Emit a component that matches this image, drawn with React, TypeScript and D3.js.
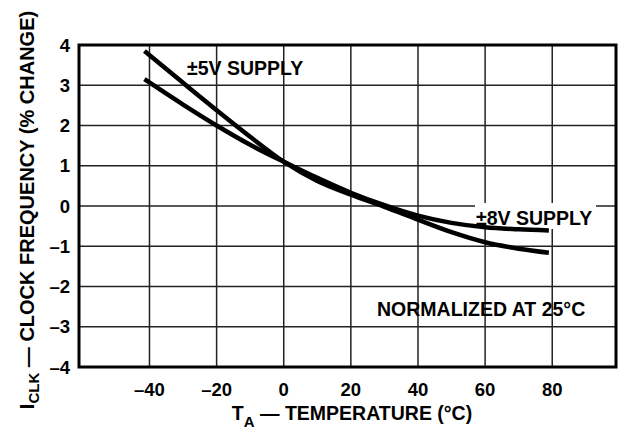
import React from "react";
import * as d3 from "d3";

const xTicks = [-40, -20, 0, 20, 40, 60, 80];
const yTicks = [4, 3, 2, 1, 0, -1, -2, -3, -4];
const yTickLabels = ["4", "3", "2", "1", "0", "\u20131", "\u20132", "\u20133", "\u20134"];
const xTickLabels = ["\u201340", "\u201320", "0", "20", "40", "60", "80"];

const tempA = [-41.5, -30, -20, -10, 0, 10, 20, 30, 40, 50, 60, 70, 79];
const steepSeries = [3.85, 3.06, 2.38, 1.72, 1.1, 0.62, 0.28, -0.02, -0.34, -0.65, -0.9, -1.06, -1.16];
const flatSeries = [3.15, 2.52, 2.0, 1.52, 1.1, 0.7, 0.33, 0.02, -0.24, -0.42, -0.53, -0.58, -0.61];

const W = 622;
const H = 432;
const left = 79, right = 616, top = 45, bottom = 367;

export default function App() {
  const x = d3.scaleLinear().domain([-61, 99]).range([left, right]);
  const y = d3.scaleLinear().domain([-4, 4]).range([bottom, top]);
  const line = d3
    .line<[number, number]>()
    .x((d) => x(d[0]))
    .y((d) => y(d[1]))
    .curve(d3.curveMonotoneX);
  const steep = line(tempA.map((t, i) => [t, steepSeries[i]]) as [number, number][]) || "";
  const flat = line(tempA.map((t, i) => [t, flatSeries[i]]) as [number, number][]) || "";
  const font = "'Liberation Sans', Arial, Helvetica, sans-serif";
  return (
    <svg
      width={W}
      height={H}
      style={{ position: "absolute", left: 0, top: 0, background: "#fff" }}
      fontFamily={font}
      fontWeight="bold"
    >
      <rect x={0} y={0} width={W} height={H} fill="#fff" />
      {xTicks.map((t) => (
        <line key={"gx" + t} x1={x(t)} x2={x(t)} y1={top} y2={bottom} stroke="#222" strokeWidth={1.5} />
      ))}
      {yTicks.map((t) => (
        <line key={"gy" + t} x1={left} x2={right} y1={y(t)} y2={y(t)} stroke="#222" strokeWidth={1.5} />
      ))}
      <rect x={475} y={203} width={121} height={26} fill="#fff" />
      <rect x={left} y={top} width={right - left} height={bottom - top} fill="none" stroke="#000" strokeWidth={3} />
      <path d={steep} fill="none" stroke="#000" strokeWidth={4.5} />
      <path d={flat} fill="none" stroke="#000" strokeWidth={4.5} />
      {yTicks.map((t, i) => (
        <text key={"ty" + t} x={70} y={y(t)} dy="0.36em" textAnchor="end" fontSize={18.5}>
          {yTickLabels[i]}
        </text>
      ))}
      {xTicks.map((t, i) => (
        <text key={"tx" + t} x={x(t)} y={396} textAnchor="middle" fontSize={18.5}>
          {xTickLabels[i]}
        </text>
      ))}
      <text x={352} y={420} textAnchor="middle" fontSize={19.5}>
        T<tspan fontSize={15} dy={7}>A</tspan>
        <tspan dy={-7}>{" \u2014 TEMPERATURE (\u00B0C)"}</tspan>
      </text>
      <text transform="translate(34,210) rotate(-90)" textAnchor="middle" fontSize={20}>
        I<tspan fontSize={15} dy={5}>CLK</tspan>
        <tspan dy={-5}>{" \u2014 CLOCK FREQUENCY (% CHANGE)"}</tspan>
      </text>
      <text x={187} y={75} fontSize={19.5}>
        {"\u00B15V SUPPLY"}
      </text>
      <text x={476} y={225} fontSize={19.5}>
        {"\u00B18V SUPPLY"}
      </text>
      <text x={377} y={316} fontSize={19.5}>
        {"NORMALIZED AT 25\u00B0C"}
      </text>
    </svg>
  );
}
